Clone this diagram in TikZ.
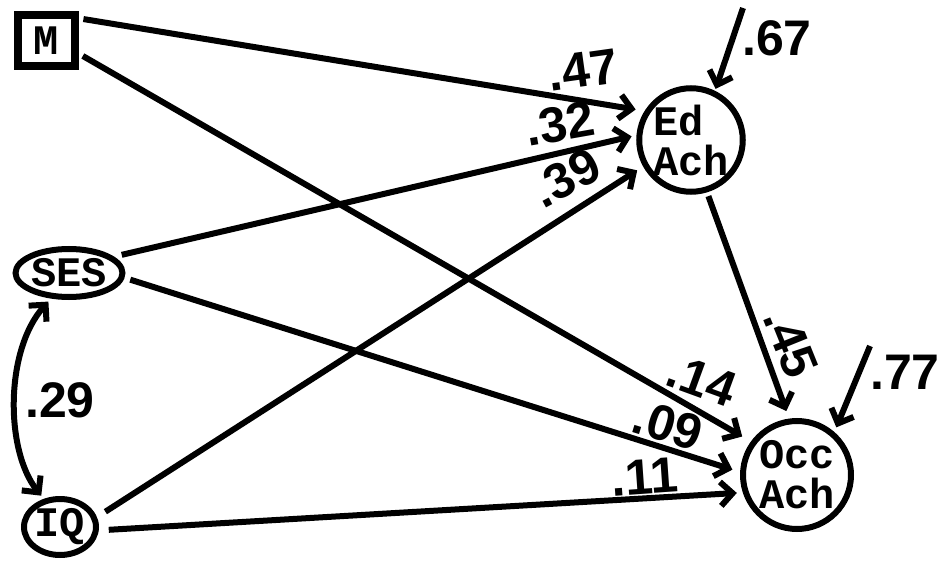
\documentclass[tikz,border=0pt]{standalone}
\usepackage{fontspec}
\setmonofont{Liberation Mono}
\newfontfamily\numfont{Liberation Sans}
\usetikzlibrary{arrows.meta,shapes.geometric}

\begin{document}
\begin{tikzpicture}[x=1pt,y=-1pt,
    var/.style={draw,line width=6pt,align=left,inner sep=0pt,
        font=\ttfamily\bfseries\fontsize{42}{40}\selectfont},
    coef/.style={inner sep=0pt,font=\numfont\bfseries\fontsize{50}{50}\selectfont},
    eff/.style={line width=6pt,-{Straight Barb[length=12pt,width=24pt]}}]
    \useasboundingbox (0,0) rectangle (951,567);

    \node[var,line width=8pt,minimum width=57pt,minimum height=51pt] (m) at (46,41) {M};
    \node[var,ellipse,minimum width=94pt,minimum height=48pt] (ses) at (69,273) {SES};
    \node[var,ellipse,minimum width=72pt,minimum height=56pt] (iq) at (60,527) {IQ};
    \node[var,circle,minimum size=103pt] (ed) at (691,140) {Ed\\Ach};
    \node[var,circle,minimum size=108pt] (occ) at (797,475) {Occ\\Ach};

    \coordinate (ed-err) at (743,8);
    \coordinate (occ-err) at (870,346);

    \draw[eff,shorten <=5pt,shorten >=9pt] (m.35) -- (ed.148);
    \draw[eff,shorten <=5pt,shorten >=10pt] (m.-21) -- (occ.144);
    \draw[eff,shorten <=8pt,shorten >=5pt] (ses.20) -- (ed.175);
    \draw[eff,shorten <=6pt,shorten >=8pt] (ses.-5) -- (occ.177);
    \draw[eff,shorten <=10pt,shorten >=7pt] (iq.15) -- (ed.209);
    \draw[eff,shorten <=10pt,shorten >=6pt] (iq.-5) -- (occ.198);
    \draw[eff,shorten <=4pt,shorten >=8pt] (ed.287) -- (occ.98);
    \draw[eff,shorten >=2pt] (ed-err) -- (ed.64);
    \draw[eff,shorten >=5pt] (occ-err) -- (occ.49);
    \draw[eff,{Straight Barb[length=12pt,width=24pt]}-{Straight Barb[length=12pt,width=24pt]},
        shorten <=4pt,shorten >=4pt] (ses.235) .. controls (5,350) and (5,450) .. (iq.120);

    \node[coef,rotate=8] (c-m-ed) at (583,70) {.47};
    \node[coef,rotate=10] (c-ses-ed) at (560,124) {.32};
    \node[coef,rotate=28] (c-iq-ed) at (566,178) {.39};
    \node[coef] (c-ed-err) at (777,38) {.67};
    \node[coef,rotate=-68] (c-ed-occ) at (791,343) {.45};
    \node[coef] (c-occ-err) at (905,372) {.77};
    \node[coef,rotate=-20] (c-m-occ) at (702,380) {.14};
    \node[coef,rotate=-17] (c-ses-occ) at (668,425) {.09};
    \node[coef,rotate=4] (c-iq-occ) at (645,477) {.11};
    \node[coef] (c-ses-iq) at (60,400) {.29};
\end{tikzpicture}
\end{document}
